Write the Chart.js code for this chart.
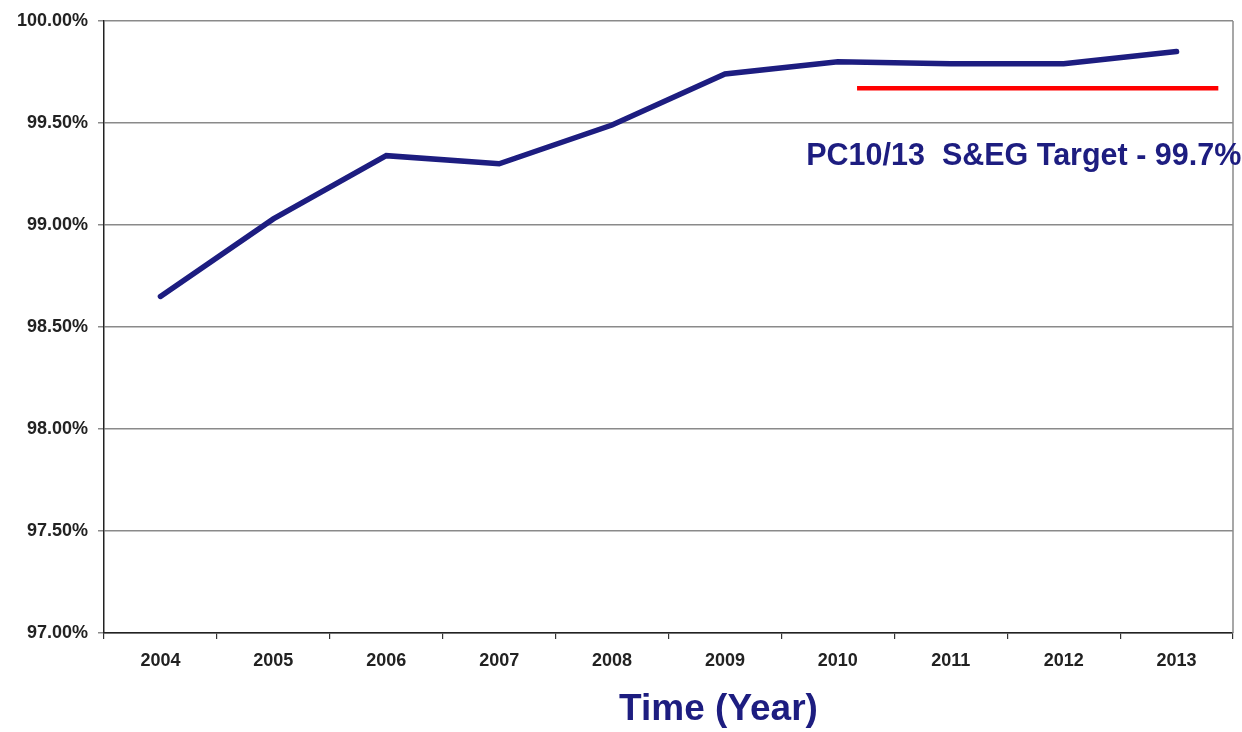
<!DOCTYPE html>
<html>
<head>
<meta charset="utf-8">
<script src="https://cdn.jsdelivr.net/npm/chart.js@4/dist/chart.umd.min.js"></script>
<style>
  html, body { margin: 0; padding: 0; background: #fff; }
  #wrap { width: 1242px; height: 732px; }
</style>
</head>
<body>
<div id="wrap"><canvas id="myChart" width="1242" height="732"></canvas></div>
<script>
const years = ['2004', '2005', '2006', '2007', '2008', '2009', '2010', '2011', '2012', '2013'];
const availability = [98.65, 99.03, 99.34, 99.30, 99.49, 99.74, 99.80, 99.79, 99.79, 99.85];

// target line spans part of the category range (index units)
const targetX = [6.17, 9.37];
const targetY = [99.67, 99.67];
const targetLabel = 'PC10/13  S&EG Target - 99.7%';
const xTitle = 'Time (Year)';

const navy = '#1d1d80';

const extras = {
  id: 'extras',
  afterDraw(chart) {
    const ctx = chart.ctx;
    const area = chart.chartArea;
    const y = chart.scales.y;
    const x2 = chart.scales.x2;
    ctx.save();
    // right border of the plot
    ctx.strokeStyle = '#8a8a8a';
    ctx.lineWidth = 1.5;
    ctx.beginPath();
    ctx.moveTo(area.right, area.top);
    ctx.lineTo(area.right, area.bottom);
    ctx.stroke();

    ctx.fillStyle = navy;
    ctx.font = 'bold 30.5px "Liberation Sans", Arial, sans-serif';
    ctx.textAlign = 'left';
    ctx.textBaseline = 'middle';
    ctx.fillText(targetLabel, x2.getPixelForValue(5.72), y.getPixelForValue(99.335));

    ctx.font = 'bold 37px "Liberation Sans", Arial, sans-serif';
    ctx.textAlign = 'center';
    ctx.fillText(xTitle, (area.left + area.right) / 2 + 50, 710);
    ctx.restore();
  }
};

new Chart(document.getElementById('myChart'), {
  type: 'line',
  data: {
    labels: years,
    datasets: [
      {
        label: 'Availability',
        data: availability,
        borderColor: navy,
        borderWidth: 5.5,
        borderCapStyle: 'round',
        pointRadius: 0,
        tension: 0,
        xAxisID: 'x',
        yAxisID: 'y'
      },
      {
        label: 'Target',
        data: targetX.map((v, i) => ({ x: v, y: targetY[i] })),
        borderColor: '#ff0000',
        borderWidth: 4.5,
        pointRadius: 0,
        xAxisID: 'x2',
        yAxisID: 'y'
      }
    ]
  },
  options: {
    responsive: false,
    animation: false,
    layout: { padding: { top: 21, right: 9, left: 0, bottom: 0 } },
    plugins: {
      legend: { display: false },
      tooltip: { enabled: false }
    },
    scales: {
      x: {
        type: 'category',
        offset: true,
        afterFit: (s) => { s.height = 99; },
        grid: {
          offset: true,
          drawOnChartArea: false,
          tickLength: 6,
          color: '#333',
          lineWidth: 1.2
        },
        border: { color: '#222', width: 1.5 },
        ticks: {
          color: '#222',
          padding: 11,
          font: { family: '"Liberation Sans", Arial', size: 18, weight: 'bold' }
        }
      },
      x2: {
        type: 'linear',
        display: false,
        min: -0.5,
        max: 9.5
      },
      y: {
        min: 97,
        max: 100,
        afterFit: (s) => { s.width = 104; },
        ticks: {
          stepSize: 0.5,
          color: '#222',
          padding: 10,
          font: { family: '"Liberation Sans", Arial', size: 18, weight: 'bold' },
          callback: (v) => v.toFixed(2) + '%'
        },
        grid: {
          color: '#8a8a8a',
          lineWidth: 1.5,
          tickLength: 6
        },
        border: { color: '#222', width: 1.5 }
      }
    }
  },
  plugins: [extras]
});
</script>
</body>
</html>
